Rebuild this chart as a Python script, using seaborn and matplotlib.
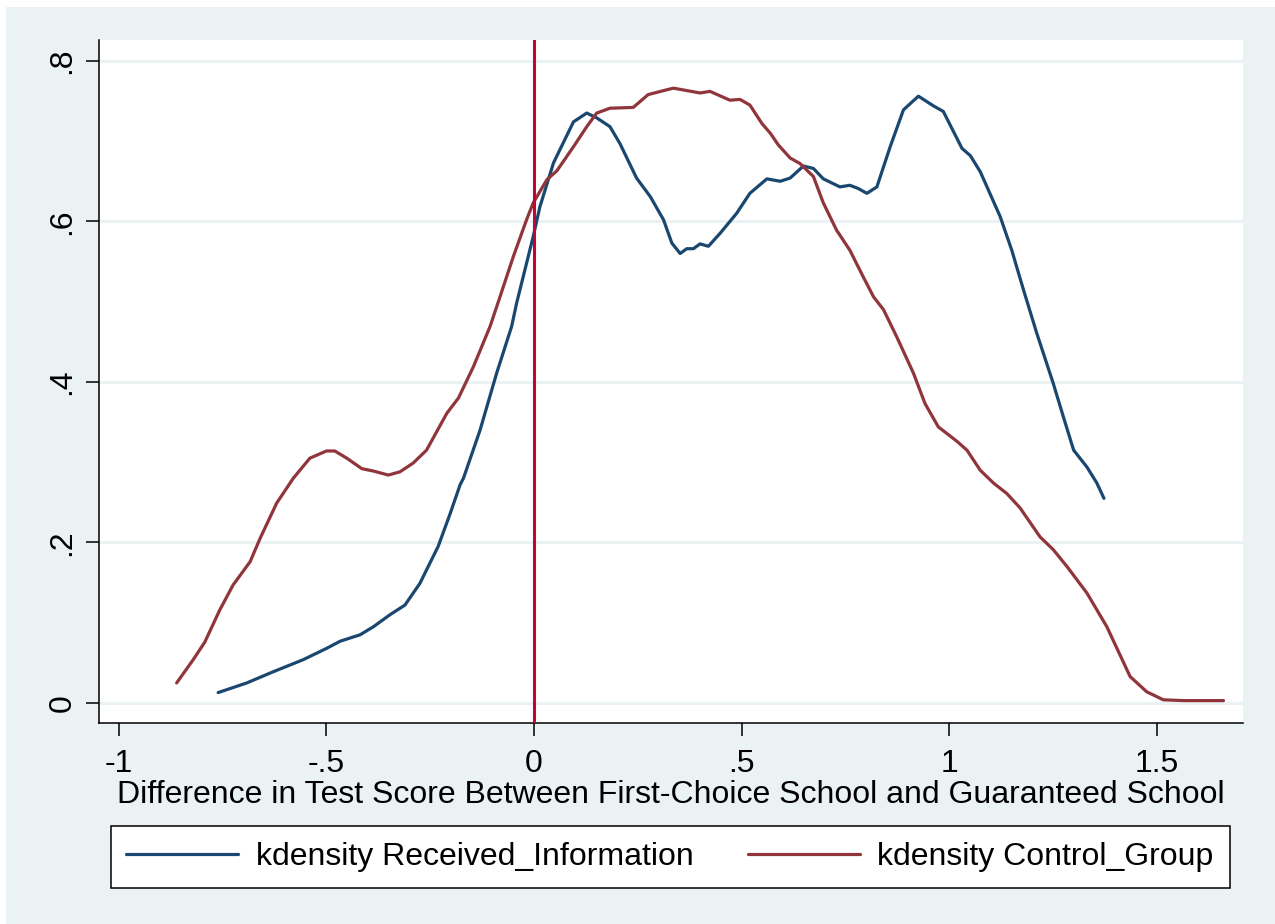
import numpy as np
import pandas as pd
import matplotlib
matplotlib.use("Agg")
import matplotlib.pyplot as plt
from matplotlib.patches import Rectangle
from matplotlib.lines import Line2D
import seaborn as sns

# Kernel density traces
info_x = [-0.761, -0.692, -0.628, -0.556, -0.500, -0.467, -0.419, -0.387, -0.347,
          -0.311, -0.275, -0.231, -0.202, -0.178, -0.170, -0.130, -0.090, -0.054,
          -0.042, -0.002, 0.014, 0.047, 0.095, 0.127, 0.151, 0.183, 0.207, 0.247,
          0.280, 0.312, 0.332, 0.352, 0.368, 0.384, 0.400, 0.420, 0.448, 0.488,
          0.520, 0.561, 0.593, 0.617, 0.649, 0.673, 0.697, 0.737, 0.761, 0.781,
          0.802, 0.826, 0.858, 0.890, 0.926, 0.962, 0.986, 1.031, 1.051, 1.075,
          1.123, 1.151, 1.179, 1.211, 1.251, 1.275, 1.300, 1.332, 1.356, 1.373]
info_y = [0.013, 0.025, 0.039, 0.054, 0.068, 0.077, 0.085, 0.095, 0.110,
          0.122, 0.149, 0.195, 0.236, 0.272, 0.280, 0.340, 0.411, 0.469,
          0.498, 0.581, 0.618, 0.673, 0.724, 0.735, 0.729, 0.718, 0.697, 0.654,
          0.631, 0.602, 0.573, 0.560, 0.566, 0.566, 0.572, 0.569, 0.585, 0.610,
          0.635, 0.653, 0.650, 0.654, 0.669, 0.666, 0.653, 0.643, 0.645, 0.641,
          0.635, 0.643, 0.693, 0.739, 0.756, 0.744, 0.737, 0.691, 0.682, 0.662,
          0.606, 0.564, 0.515, 0.461, 0.398, 0.357, 0.315, 0.294, 0.274, 0.255]

ctrl_x = [-0.861, -0.821, -0.793, -0.757, -0.725, -0.684, -0.660, -0.620, -0.580,
          -0.540, -0.500, -0.480, -0.451, -0.415, -0.387, -0.351, -0.323, -0.291,
          -0.259, -0.243, -0.210, -0.182, -0.146, -0.106, -0.082, -0.050, -0.018,
          -0.002, 0.031, 0.055, 0.095, 0.127, 0.151, 0.183, 0.239, 0.275, 0.320,
          0.336, 0.400, 0.424, 0.472, 0.496, 0.520, 0.549, 0.569, 0.589, 0.617,
          0.641, 0.673, 0.697, 0.729, 0.761, 0.793, 0.818, 0.842, 0.874, 0.914,
          0.942, 0.974, 1.019, 1.043, 1.075, 1.107, 1.139, 1.171, 1.219, 1.251,
          1.284, 1.332, 1.380, 1.436, 1.476, 1.516, 1.565, 1.661]
ctrl_y = [0.025, 0.054, 0.076, 0.116, 0.147, 0.176, 0.205, 0.249, 0.280,
          0.305, 0.314, 0.314, 0.305, 0.292, 0.289, 0.284, 0.288, 0.299,
          0.315, 0.330, 0.361, 0.380, 0.419, 0.469, 0.506, 0.556, 0.602,
          0.623, 0.652, 0.663, 0.693, 0.718, 0.735, 0.741, 0.742, 0.758, 0.764,
          0.766, 0.760, 0.762, 0.751, 0.752, 0.745, 0.722, 0.710, 0.695, 0.679,
          0.672, 0.656, 0.623, 0.589, 0.564, 0.531, 0.506, 0.490, 0.456, 0.411,
          0.373, 0.344, 0.326, 0.315, 0.290, 0.274, 0.261, 0.243, 0.207, 0.191,
          0.170, 0.137, 0.095, 0.033, 0.014, 0.004, 0.003, 0.003]

x_ticks = [-1, -0.5, 0, 0.5, 1, 1.5]
x_tick_labels = ["-1", "-.5", "0", ".5", "1", "1.5"]
y_ticks = [0, 0.2, 0.4, 0.6, 0.8]
y_tick_labels = ["0", ".2", ".4", ".6", ".8"]

labels = ["kdensity Received_Information", "kdensity Control_Group"]
colors = ["#1A476F", "#90353B"]

BG = "#EAF2F3"
FS = 23

df = pd.concat([
    pd.DataFrame({"x": info_x, "y": info_y, "series": labels[0]}),
    pd.DataFrame({"x": ctrl_x, "y": ctrl_y, "series": labels[1]}),
], ignore_index=True)

sns.set_style("white")
plt.rcParams["font.family"] = ["Liberation Sans", "DejaVu Sans"]
plt.rcParams["text.color"] = "black"
plt.rcParams["axes.labelcolor"] = "black"
plt.rcParams["xtick.color"] = "black"
plt.rcParams["ytick.color"] = "black"

fig = plt.figure(figsize=(12.75, 9.24), dpi=100, facecolor="white")
fig.patches.append(Rectangle((6 / 1275, 0), 1, 917 / 924, transform=fig.transFigure,
                             facecolor=BG, edgecolor="none", zorder=-10))
ax = fig.add_axes([99 / 1275, 1 - 723 / 924, (1243 - 99) / 1275, (723 - 40) / 924])
ax.set_facecolor("white")

for yt in y_ticks:
    ax.axhline(yt, color=BG, lw=2.2, zorder=0)

sns.lineplot(data=df, x="x", y="y", hue="series", palette=colors, sort=False,
             estimator=None, lw=2.3, legend=False, ax=ax, zorder=3)
for ln in ax.get_lines():
    ln.set_solid_joinstyle("round")
ax.axvline(0, color="#C10534", lw=2.2, zorder=4)

ax.set_xlim(-1.048, 1.708)
ax.set_ylim(-0.0249, 0.826)
ax.set_xticks(x_ticks)
ax.set_xticklabels(x_tick_labels, fontsize=FS)
ax.set_yticks(y_ticks)
ax.set_yticklabels(y_tick_labels, fontsize=FS, rotation=90, va="center")
ax.tick_params(axis="both", direction="out", length=9.5, width=1.1, color="black",
               labelcolor="black", bottom=True, left=True)
ax.tick_params(axis="x", pad=9)
ax.tick_params(axis="y", pad=6)
ax.set_xlabel("Difference in Test Score Between First-Choice School and Guaranteed School",
              fontsize=FS, labelpad=1, color="black")
ax.set_ylabel("")

for side in ["top", "right"]:
    ax.spines[side].set_visible(False)
for side in ["left", "bottom"]:
    ax.spines[side].set_color("black")
    ax.spines[side].set_linewidth(1.1)

handles = [Line2D([0], [0], color=c, lw=2.3) for c in colors]
leg = fig.legend(handles, labels, loc="center", ncol=2, fontsize=FS,
                 bbox_to_anchor=((108 + 1232) / 2 / 1275, 1 - 857 / 924),
                 frameon=True, fancybox=False, edgecolor="black", framealpha=1,
                 handlelength=3.5, handletextpad=0.55, columnspacing=1.7,
                 borderpad=0.5, borderaxespad=0, labelcolor="black")
leg.get_frame().set_linewidth(1.1)

fig.savefig("out.png", dpi=100, facecolor=fig.get_facecolor())
